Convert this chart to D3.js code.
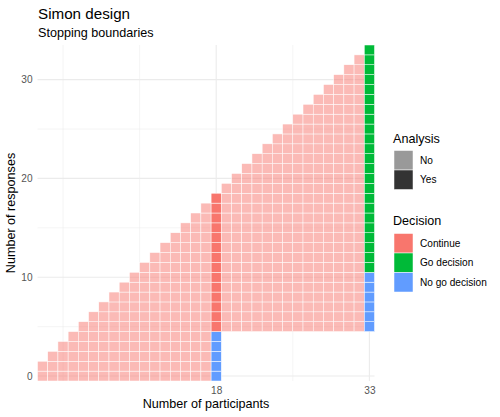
<!DOCTYPE html>
<html>
<head>
<meta charset="utf-8">
<script src="https://cdn.jsdelivr.net/npm/d3@7"></script>
<style>
  html, body { margin: 0; padding: 0; background: #fff; }
  svg { display: block; font-family: "Liberation Sans", Arial, sans-serif; }
</style>
</head>
<body>
<svg id="chart" width="500" height="417"></svg>
<script>
// ---- data ----
const participants = [1,2,3,4,5,6,7,8,9,10,11,12,13,14,15,16,17,18,19,20,21,22,23,24,25,26,27,28,29,30,31,32,33];
const minResponses = [0,0,0,0,0,0,0,0,0,0,0,0,0,0,0,0,0,0,5,5,5,5,5,5,5,5,5,5,5,5,5,5,5];
const maxResponses = [1,2,3,4,5,6,7,8,9,10,11,12,13,14,15,16,17,18,19,20,21,22,23,24,25,26,27,28,29,30,31,32,33];
const analysisStages = [18, 33];          // participants at which an analysis is made
const noGoMaxResponses = [4, 10];         // at or below: No go decision
const finalDecisionAbove = ["Continue", "Go decision"]; // above the boundary
const xTicks = [18, 33];
const yTicks = [0, 10, 20, 30];
const xGrid = [3, 10.5, 18, 25.5, 33];
const yMinorGrid = [5, 15, 25];
const decisionLevels = ["Continue", "Go decision", "No go decision"];
const decisionColors = ["#F8766D", "#00BA38", "#619CFF"];
const analysisLevels = ["No", "Yes"];
const analysisAlpha = [0.5, 1];

// build tile table
const tiles = [];
participants.forEach((n, i) => {
  const si = analysisStages.indexOf(n);
  for (let r = minResponses[i]; r <= maxResponses[i]; r++) {
    let decision = "Continue", analysis = "No";
    if (si >= 0) {
      analysis = "Yes";
      decision = r <= noGoMaxResponses[si] ? "No go decision" : finalDecisionAbove[si];
    }
    tiles.push({n, r, decision, analysis});
  }
});

// ---- layout ----
const svg = d3.select("#chart");
const panel = {left: 37.5, right: 374.5, top: 45, bottom: 381};
const x = d3.scaleLinear().domain([0.5, 33.5]).range([panel.left, panel.right]);
const y = d3.scaleLinear().domain([-0.5, 33.5]).range([panel.bottom, panel.top]);
const fill = d3.scaleOrdinal().domain(decisionLevels).range(decisionColors);
const alpha = d3.scaleOrdinal().domain(analysisLevels).range(analysisAlpha);

// grid
const grid = svg.append("g");
grid.selectAll("line.ym").data(yMinorGrid).enter().append("line")
  .attr("x1", panel.left).attr("x2", panel.right)
  .attr("y1", d => y(d)).attr("y2", d => y(d))
  .attr("stroke", "#EBEBEB").attr("stroke-width", 0.55);
grid.selectAll("line.yM").data(yTicks).enter().append("line")
  .attr("x1", panel.left).attr("x2", panel.right)
  .attr("y1", d => y(d)).attr("y2", d => y(d))
  .attr("stroke", "#EBEBEB").attr("stroke-width", 1.1);
grid.selectAll("line.x").data(xGrid).enter().append("line")
  .attr("y1", panel.top).attr("y2", panel.bottom)
  .attr("x1", d => x(d)).attr("x2", d => x(d))
  .attr("stroke", "#EBEBEB").attr("stroke-width", d => xTicks.includes(d) ? 1.1 : 0.55);

// tiles
const w = x(1) - x(0), h = y(0) - y(1);
svg.append("g").selectAll("rect").data(tiles).enter().append("rect")
  .attr("x", d => x(d.n - 0.5)).attr("y", d => y(d.r + 0.5))
  .attr("width", w).attr("height", h)
  .attr("fill", d => fill(d.decision))
  .attr("fill-opacity", d => alpha(d.analysis))
  .attr("stroke", "#fff").attr("stroke-width", 0.5);

// axes
const xAxis = d3.axisBottom(x).tickValues(xTicks).tickSize(0).tickPadding(6);
const gx = svg.append("g").attr("transform", `translate(0,${panel.bottom})`).call(xAxis);
const yAxis = d3.axisLeft(y).tickValues(yTicks).tickSize(0).tickPadding(5);
const gy = svg.append("g").attr("transform", `translate(${panel.left},0)`).call(yAxis);
[gx, gy].forEach(g => {
  g.select(".domain").remove();
  g.selectAll("text").attr("fill", "#555").style("font-size", "10.1px")
    .style("font-family", "'Liberation Sans', Arial, sans-serif");
});
gx.selectAll("text").attr("dy", "0.71em");

// titles
svg.append("text").attr("x", 38).attr("y", 18.5).text("Simon design")
  .style("font-size", "15.2px").attr("fill", "#000");
svg.append("text").attr("x", 38).attr("y", 36.5).text("Stopping boundaries")
  .style("font-size", "12.6px").attr("fill", "#000");
svg.append("text").attr("x", (panel.left + panel.right) / 2).attr("y", 408)
  .attr("text-anchor", "middle").text("Number of participants")
  .style("font-size", "12.6px").attr("fill", "#000");
svg.append("text").attr("transform", `translate(15,${(panel.top + panel.bottom) / 2}) rotate(-90)`)
  .attr("text-anchor", "middle").text("Number of responses")
  .style("font-size", "12.6px").attr("fill", "#000");

// legends
const keyW = 19, keyH = 19.5, lx = 394;
function legend(title, titleY, items, top) {
  const g = svg.append("g");
  g.append("text").attr("x", 393).attr("y", titleY).text(title)
    .style("font-size", "12.6px").attr("fill", "#000");
  g.selectAll("rect").data(items).enter().append("rect")
    .attr("x", lx).attr("y", (d, i) => top + i * keyH)
    .attr("width", keyW).attr("height", keyH)
    .attr("fill", d => d.fill).attr("fill-opacity", d => d.op)
    .attr("stroke", "#fff").attr("stroke-width", 0.5);
  g.selectAll("text.lab").data(items).enter().append("text")
    .attr("class", "lab")
    .attr("x", 420).attr("y", (d, i) => top + i * keyH + keyH / 2)
    .attr("dy", "0.35em").text(d => d.label)
    .style("font-size", "10.1px").attr("fill", "#000");
}
legend("Analysis", 142.5,
  analysisLevels.map((l, i) => ({label: l, fill: "#333333", op: analysisAlpha[i]})), 150.5);
legend("Decision", 225,
  decisionLevels.map((l, i) => ({label: l, fill: decisionColors[i], op: 1})), 233.5);
</script>
</body>
</html>
